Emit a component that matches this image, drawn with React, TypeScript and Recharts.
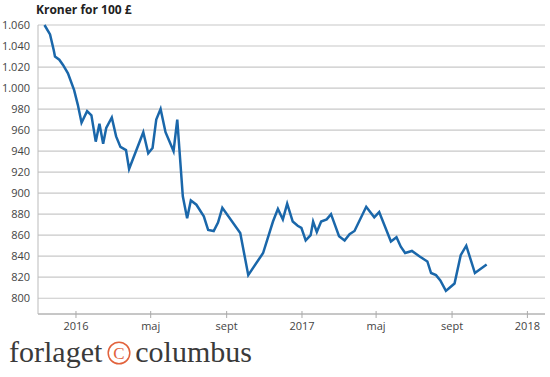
import React from 'react';
import { LineChart, Line, XAxis, YAxis, CartesianGrid } from 'recharts';

// ugentlige noteringer, kroner for 100 pund
const dates = [
  '2015-11-11', '2015-11-20', '2015-11-26', '2015-11-28', '2015-12-05', '2015-12-11',
  '2015-12-19', '2015-12-29', '2016-01-04', '2016-01-10', '2016-01-19', '2016-01-26',
  '2016-02-02', '2016-02-08', '2016-02-14', '2016-02-19', '2016-02-28', '2016-03-06',
  '2016-03-13', '2016-03-22', '2016-03-27', '2016-04-19', '2016-04-27', '2016-05-04',
  '2016-05-10', '2016-05-17', '2016-05-25', '2016-06-07', '2016-06-13', '2016-06-22',
  '2016-06-29', '2016-07-05', '2016-07-14', '2016-07-26', '2016-08-02', '2016-08-11',
  '2016-08-18', '2016-08-25', '2016-09-23', '2016-10-06', '2016-10-30', '2016-11-15',
  '2016-11-23', '2016-12-01', '2016-12-08', '2016-12-17', '2016-12-25', '2016-12-31',
  '2017-01-07', '2017-01-15', '2017-01-19', '2017-01-25', '2017-02-01', '2017-02-10',
  '2017-02-17', '2017-03-02', '2017-03-11', '2017-03-19', '2017-03-27', '2017-04-15',
  '2017-04-28', '2017-05-06', '2017-05-25', '2017-06-03', '2017-06-10', '2017-06-17',
  '2017-06-28', '2017-07-10', '2017-07-23', '2017-07-29', '2017-08-06', '2017-08-13',
  '2017-08-22', '2017-08-28', '2017-09-05', '2017-09-15', '2017-09-24', '2017-10-08',
  '2017-10-27',
];

const rates = [
  1060, 1051, 1036, 1030, 1027, 1022,
  1014, 998, 984, 967, 978, 974,
  949, 966, 947, 962, 972, 954,
  944, 941, 923, 958, 938, 943,
  970, 980, 958, 940, 970, 897,
  876, 893, 889, 878, 865, 864,
  872, 886, 862, 822, 843, 873,
  885, 875, 890, 873, 869, 867,
  855, 860, 873, 863, 873, 875,
  880, 859, 855, 861, 864, 887,
  877, 882, 854, 858, 849, 843,
  845, 840, 835, 824, 822, 817,
  807, 810, 814, 841, 850, 824,
  832,
];

const tickDates = ['2016-01-01', '2016-05-01', '2016-09-01', '2017-01-01', '2017-05-01', '2017-09-01', '2018-01-01'];
const tickLabels = ['2016', 'maj', 'sept', '2017', 'maj', 'sept', '2018'];
const yTicks = [800, 820, 840, 860, 880, 900, 920, 940, 960, 980, 1000, 1020, 1040, 1060];

const data = dates.map((d, i) => ({ t: Date.parse(d), v: rates[i] }));
const xTicks = tickDates.map((d) => Date.parse(d));

const fmtY = (v: number) =>
  v >= 1000 ? `${Math.floor(v / 1000)}.${String(v % 1000).padStart(3, '0')}` : String(v);

const font = '"Open Sans", sans-serif';
const serif = '"Liberation Serif", serif';

function XTick(props: any) {
  const { x, y, payload } = props;
  const idx = xTicks.indexOf(payload.value);
  return (
    <g>
      <line x1={x} x2={x} y1={y - 11} y2={y - 4} stroke="#aaa" strokeWidth={1} />
      <text x={x} y={y} dy="0.71em" textAnchor="middle" fill="#444" fontSize={11} fontFamily={font}>
        {idx >= 0 ? tickLabels[idx] : ''}
      </text>
    </g>
  );
}

export default function App() {
  return (
    <div style={{ position: 'absolute', left: 0, top: 0, width: 550, height: 377, background: '#fff' }}>
      <div
        style={{
          position: 'absolute',
          left: 36,
          top: 1,
          fontFamily: font,
          fontWeight: 700,
          fontSize: 12,
          color: '#222',
        }}
      >
        Kroner for 100 £
      </div>
      <LineChart width={550} height={340} data={data} margin={{ top: 25, right: 5, bottom: 0, left: 0 }}>
        <CartesianGrid vertical={false} stroke="#c8c8c8" strokeWidth={1.2} />
        <XAxis
          dataKey="t"
          type="number"
          scale="time"
          domain={[Date.UTC(2015, 9, 31, 12), Date.UTC(2018, 0, 29, 12)]}
          ticks={xTicks}
          height={26}
          tickSize={4}
          tickMargin={4}
          tickLine={false}
          axisLine={{ stroke: '#aaa', strokeWidth: 1 }}
          tick={<XTick />}
          interval={0}
        />
        <YAxis
          type="number"
          domain={[785, 1060]}
          ticks={yTicks}
          width={38}
          tickLine={false}
          axisLine={{ stroke: '#bbb', strokeWidth: 1 }}
          tickFormatter={fmtY}
          tick={{ fill: '#444', fontSize: 11, fontFamily: font }}
          interval={0}
        />
        <Line
          type="linear"
          dataKey="v"
          stroke="#1a67aa"
          strokeWidth={2.5}
          dot={false}
          isAnimationActive={false}
        />
      </LineChart>
      <div
        style={{
          position: 'absolute',
          left: 9,
          top: 335,
          fontFamily: serif,
          fontSize: 30,
          color: '#3a3a3a',
          display: 'flex',
          alignItems: 'center',
          whiteSpace: 'nowrap',
        }}
      >
        <span>forlaget</span>
        <svg width={24} height={24} style={{ margin: '2px 4px 0 5px' }}>
          <circle cx={12} cy={12} r={10.8} fill="none" stroke="#e2623c" strokeWidth={1.5} />
          <text x={12} y={17.8} textAnchor="middle" fontSize={17} fill="#e2623c" fontFamily={serif}>
            C
          </text>
        </svg>
        <span>columbus</span>
      </div>
    </div>
  );
}
